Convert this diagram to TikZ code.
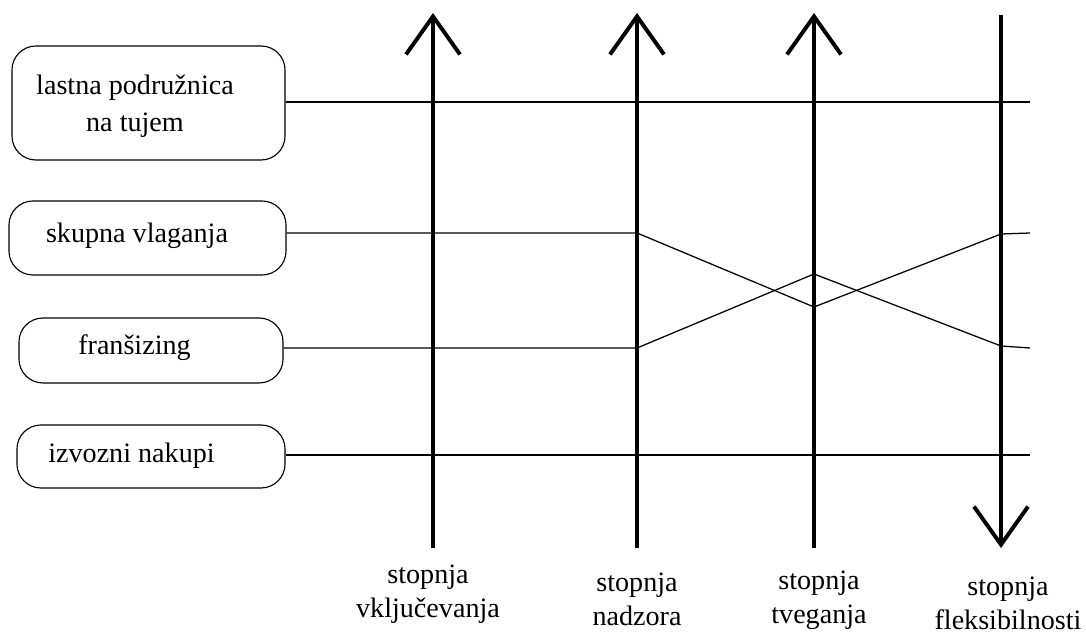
\documentclass[tikz,border=0pt]{standalone}
\usepackage{fontspec}
\setmainfont{Liberation Serif}
\usepackage{tikz}
\usetikzlibrary{arrows.meta, positioning}

\begin{document}
\begin{tikzpicture}[x=0.025cm, y=-0.025cm,
    modebox/.style={draw, line width=0.8pt, rounded corners=0.6cm, inner sep=0pt},
    modetext/.style={align=center, inner sep=0pt, font=\fontsize{20}{26}\selectfont},
    axislabel/.style={align=center, inner sep=0pt, font=\fontsize{20}{24}\selectfont},
    link/.style={draw, line width=0.9pt},
    axis/.style={draw, line width=2.8pt, -{Straight Barb[length=0.95cm, width=1.35cm]}}
]
    \useasboundingbox (0,0) rectangle (1086,635);

    % Entry modes
    \node[modebox, minimum width=6.825cm, minimum height=2.85cm] (podr) at (148.5,103) {};
    \node[modetext] (podr-t) at (135,106) {lastna podružnica\\na tujem};
    \node[modebox, minimum width=6.925cm, minimum height=1.85cm] (skup) at (147.5,238) {};
    \node[modetext] (skup-t) at (137,236) {skupna vlaganja};
    \node[modebox, minimum width=6.6cm, minimum height=1.625cm] (fran) at (151,350.5) {};
    \node[modetext] (fran-t) at (134.5,348) {franšizing};
    \node[modebox, minimum width=6.7cm, minimum height=1.575cm] (izv) at (151,456.5) {};
    \node[modetext] (izv-t) at (131.5,456) {izvozni nakupi};

    % Axis ends
    \coordinate (vklj-top) at (433,13);
    \coordinate (vklj-bot) at (433,548);
    \coordinate (nadz-top) at (637,13);
    \coordinate (nadz-bot) at (637,548);
    \coordinate (tveg-top) at (814,13);
    \coordinate (tveg-bot) at (814,548);
    \coordinate (fleks-top) at (1001,15);
    \coordinate (fleks-bot) at (1001,548);

    % Line ends and kinks
    \coordinate (podr-end) at (1030,102);
    \coordinate (izv-end) at (1030,455);
    \coordinate (skup-nadz) at (637,233);
    \coordinate (skup-tveg) at (814,307);
    \coordinate (skup-fleks) at (1001,234);
    \coordinate (skup-end) at (1030,233);
    \coordinate (fran-nadz) at (637,348);
    \coordinate (fran-tveg) at (814,274);
    \coordinate (fran-fleks) at (1001,346);
    \coordinate (fran-end) at (1030,348);

    % Lines
    \draw[link] (podr.east |- podr-end) -- (podr-end);
    \draw[link] (skup.east |- skup-nadz) -- (skup-nadz) -- (skup-tveg) -- (skup-fleks) -- (skup-end);
    \draw[link] (fran.east |- fran-nadz) -- (fran-nadz) -- (fran-tveg) -- (fran-fleks) -- (fran-end);
    \draw[link] (izv.east |- izv-end) -- (izv-end);

    % Axes
    \draw[axis] (vklj-bot) -- (vklj-top);
    \draw[axis] (nadz-bot) -- (nadz-top);
    \draw[axis] (tveg-bot) -- (tveg-top);
    \draw[axis] (fleks-top) -- (fleks-bot);

    \node[axislabel] (vklj) at (428,594.5) {stopnja\\vključevanja};
    \node[axislabel] (nadz) at (637,599) {stopnja\\nadzora};
    \node[axislabel] (tveg) at (819,600) {stopnja\\tveganja};
    \node[axislabel] (fleks) at (1008,603.5) {stopnja\\fleksibilnosti};

\end{tikzpicture}
\end{document}
